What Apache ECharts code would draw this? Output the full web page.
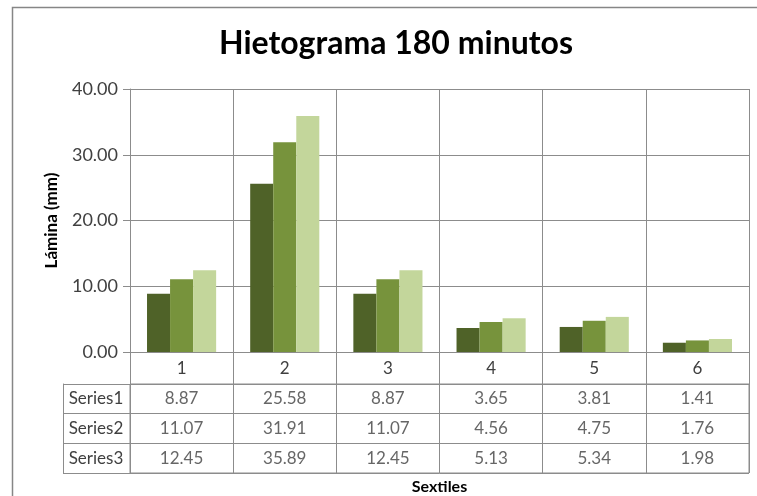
<!DOCTYPE html>
<html>
<head>
<meta charset="utf-8">
<script src="https://cdn.jsdelivr.net/npm/echarts@6/dist/echarts.min.js"></script>
<style>
  html, body { margin: 0; padding: 0; background: #ffffff; }
  #chart { width: 757px; height: 496px; }
</style>
</head>
<body>
<div id="chart"></div>
<script>
// Sextile labels and rainfall depth (mm) per series
const categories = ['1', '2', '3', '4', '5', '6'];
const seriesNames = ['Series1', 'Series2', 'Series3'];
const series1 = [8.87, 25.58, 8.87, 3.65, 3.81, 1.41];
const series2 = [11.07, 31.91, 11.07, 4.56, 4.75, 1.76];
const series3 = [12.45, 35.89, 12.45, 5.13, 5.34, 1.98];
const yTicks = [0, 10, 20, 30, 40];

const seriesValues = [series1, series2, series3];
const barColors = ['#4F6228', '#77933C', '#C3D69B'];
const gridColor = '#8C8C8C';
const textColor = '#404040';
const fontFamily = 'Lato, "Liberation Sans", sans-serif';

// cells of the data table: [category index, series name, value]
const tableCells = [];
seriesValues.forEach((vals, r) => {
  vals.forEach((v, c) => tableCells.push([c, seriesNames[r], v]));
});

const chart = echarts.init(document.getElementById('chart'), null, { renderer: 'canvas' });

chart.setOption({
  animation: false,
  textStyle: { fontFamily: fontFamily },
  title: {
    text: 'Hietograma 180 minutos',
    left: 391,
    textAlign: 'center',
    top: 23,
    textStyle: { fontFamily: fontFamily, fontSize: 32, fontWeight: 'bold', color: '#000000' }
  },
  graphic: [{
    type: 'rect',
    silent: true,
    shape: { x: 12.5, y: 7.5, width: 800, height: 600 },
    style: { fill: 'none', stroke: '#868686', lineWidth: 1.5 }
  }],
  grid: [
    { left: 130, right: 8, top: 89, bottom: 144, show: false },
    { left: 130, right: 8, top: 384, height: 90, show: true, borderColor: gridColor, borderWidth: 1 }
  ],
  xAxis: [
    {
      type: 'category',
      gridIndex: 0,
      data: categories,
      axisLine: { lineStyle: { color: gridColor } },
      axisTick: { show: true, length: 32, lineStyle: { color: gridColor } },
      axisLabel: { margin: 8, fontSize: 17, color: textColor },
      splitLine: { show: true, lineStyle: { color: gridColor } }
    },
    {
      type: 'category',
      gridIndex: 1,
      data: categories,
      axisLine: { show: false },
      axisTick: { show: false },
      axisLabel: { show: false },
      splitLine: { show: true, lineStyle: { color: gridColor } },
      name: 'Sextiles',
      nameLocation: 'middle',
      nameGap: 6,
      nameTextStyle: { fontSize: 16, fontWeight: 'bold', color: '#000000', verticalAlign: 'top' }
    }
  ],
  yAxis: [
    {
      type: 'value',
      gridIndex: 0,
      min: yTicks[0],
      max: yTicks[yTicks.length - 1],
      interval: yTicks[1] - yTicks[0],
      axisLine: { show: true, lineStyle: { color: gridColor } },
      axisTick: { show: true, length: 7, lineStyle: { color: gridColor } },
      axisLabel: { margin: 12, fontSize: 18, color: textColor, formatter: v => v.toFixed(2) },
      splitLine: { show: true, lineStyle: { color: gridColor } },
      name: 'Lámina (mm)',
      nameLocation: 'middle',
      nameGap: 70,
      nameRotate: 90,
      nameTextStyle: { fontSize: 17, fontWeight: 'bold', color: '#000000' }
    },
    {
      type: 'category',
      gridIndex: 1,
      data: seriesNames,
      inverse: true,
      axisLine: { show: false },
      axisTick: { show: true, length: 67, lineStyle: { color: gridColor } },
      axisLabel: { margin: 34, align: 'center', fontSize: 17, color: textColor },
      splitLine: { show: true, lineStyle: { color: gridColor } }
    },
    {
      type: 'category',
      gridIndex: 1,
      data: seriesNames,
      inverse: true,
      position: 'left',
      offset: 67,
      axisLine: { show: true, lineStyle: { color: gridColor } },
      axisTick: { show: false },
      axisLabel: { show: false },
      splitLine: { show: false }
    }
  ],
  series: [
    ...seriesValues.map((vals, i) => ({
      name: seriesNames[i],
      type: 'bar',
      xAxisIndex: 0,
      yAxisIndex: 0,
      data: vals,
      barGap: '0%',
      barCategoryGap: '33%',
      itemStyle: { color: barColors[i] }
    })),
    {
      name: 'table',
      type: 'scatter',
      xAxisIndex: 1,
      yAxisIndex: 1,
      symbolSize: 0,
      data: tableCells,
      label: {
        show: true,
        position: 'inside',
        fontSize: 17,
        color: textColor,
        formatter: p => p.value[2].toFixed(2)
      }
    }
  ]
});
</script>
</body>
</html>
